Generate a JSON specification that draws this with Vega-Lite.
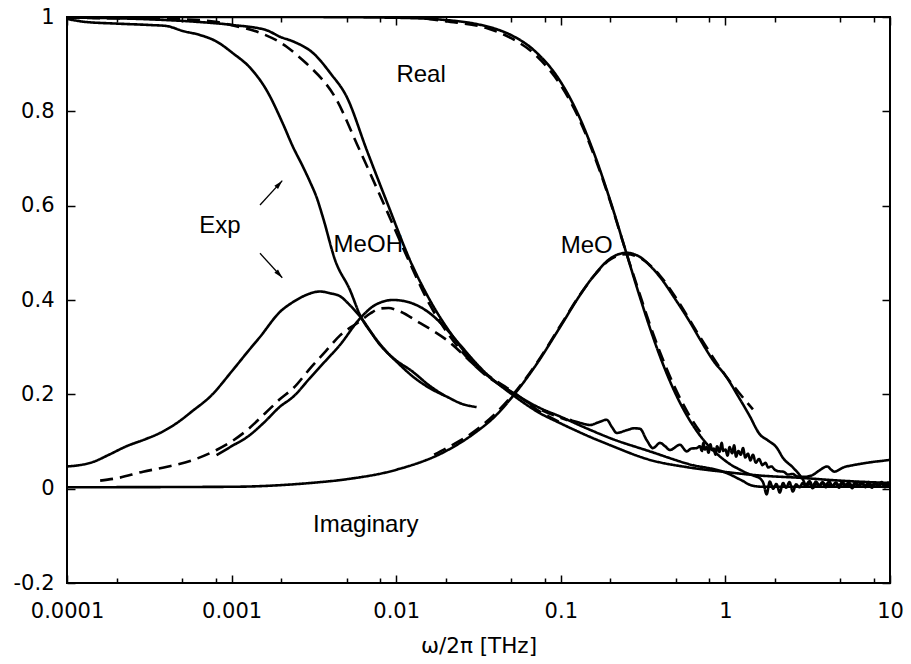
{
  "$schema": "https://vega.github.io/schema/vega-lite/v6.json",
  "width": 823,
  "height": 566,
  "autosize": {"type": "none"},
  "padding": {"left": 67, "top": 17, "right": 21, "bottom": 81},
  "background": "white",
  "config": {
    "view": {"stroke": "black", "strokeWidth": 2},
    "axis": {"grid": false, "domain": false, "labelFont": "DejaVu Sans", "labelFontSize": 21, "labelColor": "black", "tickColor": "black", "tickWidth": 1.5, "titleFont": "DejaVu Sans", "titleFontSize": 21.5, "titleFontWeight": "normal", "titleColor": "black", "labelOverlap": false, "labelFlush": false, "labelBound": false}
  },
  "datasets": {
    "curves": [
      {"s":"exp_re","d":"solid","x":0.0001,"y":0.996},{"s":"exp_re","d":"solid","x":0.000126,"y":0.99},{"s":"exp_re","d":"solid","x":0.0002,"y":0.986},{"s":"exp_re","d":"solid","x":0.00032,"y":0.983},{"s":"exp_re","d":"solid","x":0.0004,"y":0.981},{"s":"exp_re","d":"solid","x":0.00051,"y":0.97},{"s":"exp_re","d":"solid","x":0.00064,"y":0.962},{"s":"exp_re","d":"solid","x":0.00081,"y":0.948},{"s":"exp_re","d":"solid","x":0.00102,"y":0.923},{"s":"exp_re","d":"solid","x":0.00129,"y":0.893},{"s":"exp_re","d":"solid","x":0.00163,"y":0.845},{"s":"exp_re","d":"solid","x":0.00206,"y":0.772},{"s":"exp_re","d":"solid","x":0.00235,"y":0.726},{"s":"exp_re","d":"solid","x":0.0027,"y":0.684},{"s":"exp_re","d":"solid","x":0.003,"y":0.65},{"s":"exp_re","d":"solid","x":0.00329,"y":0.617},{"s":"exp_re","d":"solid","x":0.00361,"y":0.572},{"s":"exp_re","d":"solid","x":0.00425,"y":0.485},{"s":"exp_re","d":"solid","x":0.00524,"y":0.421},{"s":"exp_re","d":"solid","x":0.00603,"y":0.368},{"s":"exp_re","d":"solid","x":0.00726,"y":0.325},{"s":"exp_re","d":"solid","x":0.00917,"y":0.283},{"s":"exp_re","d":"solid","x":0.0127,"y":0.247},{"s":"exp_re","d":"solid","x":0.016,"y":0.218},{"s":"exp_re","d":"solid","x":0.0195,"y":0.198},
      {"s":"exp_im","d":"solid","x":0.0001,"y":0.047},{"s":"exp_im","d":"solid","x":0.000145,"y":0.057},{"s":"exp_im","d":"solid","x":0.00018,"y":0.072},{"s":"exp_im","d":"solid","x":0.00023,"y":0.09},{"s":"exp_im","d":"solid","x":0.0003,"y":0.105},{"s":"exp_im","d":"solid","x":0.000367,"y":0.118},{"s":"exp_im","d":"solid","x":0.000464,"y":0.139},{"s":"exp_im","d":"solid","x":0.00058,"y":0.165},{"s":"exp_im","d":"solid","x":0.00074,"y":0.195},{"s":"exp_im","d":"solid","x":0.00102,"y":0.252},{"s":"exp_im","d":"solid","x":0.00125,"y":0.29},{"s":"exp_im","d":"solid","x":0.00149,"y":0.322},{"s":"exp_im","d":"solid","x":0.00197,"y":0.375},{"s":"exp_im","d":"solid","x":0.00237,"y":0.396},{"s":"exp_im","d":"solid","x":0.00273,"y":0.408},{"s":"exp_im","d":"solid","x":0.00344,"y":0.418},{"s":"exp_im","d":"solid","x":0.004,"y":0.414},{"s":"exp_im","d":"solid","x":0.00456,"y":0.408},{"s":"exp_im","d":"solid","x":0.0052,"y":0.39},{"s":"exp_im","d":"solid","x":0.00603,"y":0.365},{"s":"exp_im","d":"solid","x":0.00797,"y":0.305},{"s":"exp_im","d":"solid","x":0.01,"y":0.27},{"s":"exp_im","d":"solid","x":0.0127,"y":0.237},{"s":"exp_im","d":"solid","x":0.016,"y":0.213},{"s":"exp_im","d":"solid","x":0.0203,"y":0.195},{"s":"exp_im","d":"solid","x":0.025,"y":0.18},{"s":"exp_im","d":"solid","x":0.0308,"y":0.173},
      {"s":"meoh_re","d":"solid","x":0.0001,"y":0.999},{"s":"meoh_re","d":"solid","x":0.00032,"y":0.995},{"s":"meoh_re","d":"solid","x":0.0006,"y":0.99},{"s":"meoh_re","d":"solid","x":0.00102,"y":0.983},{"s":"meoh_re","d":"solid","x":0.00163,"y":0.972},{"s":"meoh_re","d":"solid","x":0.00197,"y":0.958},{"s":"meoh_re","d":"solid","x":0.00237,"y":0.948},{"s":"meoh_re","d":"solid","x":0.00314,"y":0.923},{"s":"meoh_re","d":"solid","x":0.004,"y":0.88},{"s":"meoh_re","d":"solid","x":0.005,"y":0.831},{"s":"meoh_re","d":"solid","x":0.00662,"y":0.718},{"s":"meoh_re","d":"solid","x":0.009,"y":0.598},{"s":"meoh_re","d":"solid","x":0.0121,"y":0.485},{"s":"meoh_re","d":"solid","x":0.016,"y":0.4},{"s":"meoh_re","d":"solid","x":0.0222,"y":0.322},{"s":"meoh_re","d":"solid","x":0.032,"y":0.255},{"s":"meoh_re","d":"solid","x":0.0514,"y":0.203},{"s":"meoh_re","d":"solid","x":0.0747,"y":0.171},{"s":"meoh_re","d":"solid","x":0.0989,"y":0.153},{"s":"meoh_re","d":"solid","x":0.15,"y":0.125},{"s":"meoh_re","d":"solid","x":0.2,"y":0.107},{"s":"meoh_re","d":"solid","x":0.348,"y":0.079},{"s":"meoh_re","d":"solid","x":0.6,"y":0.052},{"s":"meoh_re","d":"solid","x":1.02,"y":0.033},{"s":"meoh_re","d":"solid","x":1.25,"y":0.018},{"s":"meoh_re","d":"solid","x":1.47,"y":0.006},{"s":"meoh_re","d":"solid","x":1.7,"y":0.004},{"s":"meoh_re","d":"solid","x":3,"y":0.004},{"s":"meoh_re","d":"solid","x":10,"y":0.004},
      {"s":"meoh_re_d","d":"dashed","x":0.0001,"y":0.998},{"s":"meoh_re_d","d":"dashed","x":0.0005,"y":0.995},{"s":"meoh_re_d","d":"dashed","x":0.0008,"y":0.99},{"s":"meoh_re_d","d":"dashed","x":0.00105,"y":0.981},{"s":"meoh_re_d","d":"dashed","x":0.0015,"y":0.966},{"s":"meoh_re_d","d":"dashed","x":0.00216,"y":0.937},{"s":"meoh_re_d","d":"dashed","x":0.0025,"y":0.919},{"s":"meoh_re_d","d":"dashed","x":0.00284,"y":0.902},{"s":"meoh_re_d","d":"dashed","x":0.00435,"y":0.824},{"s":"meoh_re_d","d":"dashed","x":0.00575,"y":0.732},{"s":"meoh_re_d","d":"dashed","x":0.0085,"y":0.6},{"s":"meoh_re_d","d":"dashed","x":0.0118,"y":0.487},{"s":"meoh_re_d","d":"dashed","x":0.016,"y":0.39},{"s":"meoh_re_d","d":"dashed","x":0.021,"y":0.325},{"s":"meoh_re_d","d":"dashed","x":0.032,"y":0.252},{"s":"meoh_re_d","d":"dashed","x":0.05,"y":0.205},{"s":"meoh_re_d","d":"dashed","x":0.075,"y":0.168},{"s":"meoh_re_d","d":"dashed","x":0.11,"y":0.145},
      {"s":"meoh_im","d":"solid","x":0.00081,"y":0.071},{"s":"meoh_im","d":"solid","x":0.001,"y":0.09},{"s":"meoh_im","d":"solid","x":0.00125,"y":0.11},{"s":"meoh_im","d":"solid","x":0.00156,"y":0.139},{"s":"meoh_im","d":"solid","x":0.00197,"y":0.174},{"s":"meoh_im","d":"solid","x":0.00237,"y":0.195},{"s":"meoh_im","d":"solid","x":0.003,"y":0.235},{"s":"meoh_im","d":"solid","x":0.0037,"y":0.27},{"s":"meoh_im","d":"solid","x":0.00456,"y":0.305},{"s":"meoh_im","d":"solid","x":0.00603,"y":0.361},{"s":"meoh_im","d":"solid","x":0.0075,"y":0.39},{"s":"meoh_im","d":"solid","x":0.0096,"y":0.4},{"s":"meoh_im","d":"solid","x":0.012,"y":0.395},{"s":"meoh_im","d":"solid","x":0.016,"y":0.372},{"s":"meoh_im","d":"solid","x":0.02,"y":0.34},{"s":"meoh_im","d":"solid","x":0.0244,"y":0.305},{"s":"meoh_im","d":"solid","x":0.035,"y":0.245},{"s":"meoh_im","d":"solid","x":0.0514,"y":0.198},{"s":"meoh_im","d":"solid","x":0.0747,"y":0.16},{"s":"meoh_im","d":"solid","x":0.0989,"y":0.139},{"s":"meoh_im","d":"solid","x":0.15,"y":0.11},{"s":"meoh_im","d":"solid","x":0.2,"y":0.092},{"s":"meoh_im","d":"solid","x":0.348,"y":0.061},{"s":"meoh_im","d":"solid","x":0.6,"y":0.045},{"s":"meoh_im","d":"solid","x":1.02,"y":0.035},{"s":"meoh_im","d":"solid","x":1.6,"y":0.028},{"s":"meoh_im","d":"solid","x":2.84,"y":0.023},{"s":"meoh_im","d":"solid","x":5,"y":0.017},{"s":"meoh_im","d":"solid","x":10,"y":0.012},
      {"s":"meoh_im_d","d":"dashed","x":0.000159,"y":0.017},{"s":"meoh_im_d","d":"dashed","x":0.0002,"y":0.022},{"s":"meoh_im_d","d":"dashed","x":0.00029,"y":0.036},{"s":"meoh_im_d","d":"dashed","x":0.0004,"y":0.046},{"s":"meoh_im_d","d":"dashed","x":0.000585,"y":0.061},{"s":"meoh_im_d","d":"dashed","x":0.00081,"y":0.082},{"s":"meoh_im_d","d":"dashed","x":0.001,"y":0.1},{"s":"meoh_im_d","d":"dashed","x":0.00124,"y":0.124},{"s":"meoh_im_d","d":"dashed","x":0.0016,"y":0.16},{"s":"meoh_im_d","d":"dashed","x":0.00197,"y":0.19},{"s":"meoh_im_d","d":"dashed","x":0.00237,"y":0.213},{"s":"meoh_im_d","d":"dashed","x":0.003,"y":0.255},{"s":"meoh_im_d","d":"dashed","x":0.0037,"y":0.29},{"s":"meoh_im_d","d":"dashed","x":0.00456,"y":0.325},{"s":"meoh_im_d","d":"dashed","x":0.00603,"y":0.355},{"s":"meoh_im_d","d":"dashed","x":0.007,"y":0.372},{"s":"meoh_im_d","d":"dashed","x":0.008,"y":0.382},{"s":"meoh_im_d","d":"dashed","x":0.009,"y":0.383},{"s":"meoh_im_d","d":"dashed","x":0.01,"y":0.379},{"s":"meoh_im_d","d":"dashed","x":0.014,"y":0.351},{"s":"meoh_im_d","d":"dashed","x":0.0203,"y":0.315},{"s":"meoh_im_d","d":"dashed","x":0.0323,"y":0.252},{"s":"meoh_im_d","d":"dashed","x":0.0514,"y":0.205},{"s":"meoh_im_d","d":"dashed","x":0.075,"y":0.163},{"s":"meoh_im_d","d":"dashed","x":0.1,"y":0.14},
      {"s":"meoh_w","d":"solid","x":0.1137,"y":0.146},{"s":"meoh_w","d":"solid","x":0.13,"y":0.14},{"s":"meoh_w","d":"solid","x":0.1504,"y":0.135},{"s":"meoh_w","d":"solid","x":0.17,"y":0.141},{"s":"meoh_w","d":"solid","x":0.19,"y":0.146},{"s":"meoh_w","d":"solid","x":0.205,"y":0.13},{"s":"meoh_w","d":"solid","x":0.2186,"y":0.118},{"s":"meoh_w","d":"solid","x":0.2514,"y":0.124},{"s":"meoh_w","d":"solid","x":0.28,"y":0.128},{"s":"meoh_w","d":"solid","x":0.3027,"y":0.127},{"s":"meoh_w","d":"solid","x":0.3325,"y":0.103},{"s":"meoh_w","d":"solid","x":0.363,"y":0.086},{"s":"meoh_w","d":"solid","x":0.401,"y":0.097},{"s":"meoh_w","d":"solid","x":0.43,"y":0.09},{"s":"meoh_w","d":"solid","x":0.4606,"y":0.082},{"s":"meoh_w","d":"solid","x":0.5297,"y":0.093},{"s":"meoh_w","d":"solid","x":0.582,"y":0.079},{"s":"meoh_w","d":"solid","x":0.62,"y":0.085},{"s":"meoh_w","d":"solid","x":0.669,"y":0.086},{"s":"meoh_w","d":"solid","x":0.7,"y":0.09},{"s":"meoh_w","d":"solid","x":0.72,"y":0.08},{"s":"meoh_w","d":"solid","x":0.735,"y":0.097},{"s":"meoh_w","d":"solid","x":0.75,"y":0.083},{"s":"meoh_w","d":"solid","x":0.77,"y":0.088},{"s":"meoh_w","d":"solid","x":0.79,"y":0.076},{"s":"meoh_w","d":"solid","x":0.81,"y":0.094},{"s":"meoh_w","d":"solid","x":0.83,"y":0.082},{"s":"meoh_w","d":"solid","x":0.85,"y":0.085},{"s":"meoh_w","d":"solid","x":0.87,"y":0.072},{"s":"meoh_w","d":"solid","x":0.89,"y":0.09},{"s":"meoh_w","d":"solid","x":0.92,"y":0.078},{"s":"meoh_w","d":"solid","x":0.95,"y":0.097},{"s":"meoh_w","d":"solid","x":0.97,"y":0.08},{"s":"meoh_w","d":"solid","x":1.0,"y":0.083},{"s":"meoh_w","d":"solid","x":1.03,"y":0.07},{"s":"meoh_w","d":"solid","x":1.06,"y":0.088},{"s":"meoh_w","d":"solid","x":1.1,"y":0.075},{"s":"meoh_w","d":"solid","x":1.13,"y":0.092},{"s":"meoh_w","d":"solid","x":1.16,"y":0.068},{"s":"meoh_w","d":"solid","x":1.2,"y":0.08},{"s":"meoh_w","d":"solid","x":1.24,"y":0.072},{"s":"meoh_w","d":"solid","x":1.28,"y":0.086},{"s":"meoh_w","d":"solid","x":1.32,"y":0.066},{"s":"meoh_w","d":"solid","x":1.37,"y":0.074},{"s":"meoh_w","d":"solid","x":1.42,"y":0.06},{"s":"meoh_w","d":"solid","x":1.47,"y":0.072},{"s":"meoh_w","d":"solid","x":1.53,"y":0.055},{"s":"meoh_w","d":"solid","x":1.6,"y":0.063},{"s":"meoh_w","d":"solid","x":1.68,"y":0.05},{"s":"meoh_w","d":"solid","x":1.75,"y":0.055},{"s":"meoh_w","d":"solid","x":1.82,"y":0.045},{"s":"meoh_w","d":"solid","x":1.9,"y":0.047},{"s":"meoh_w","d":"solid","x":2.0,"y":0.04},{"s":"meoh_w","d":"solid","x":2.1,"y":0.037},{"s":"meoh_w","d":"solid","x":2.25,"y":0.036},{"s":"meoh_w","d":"solid","x":2.4,"y":0.03},{"s":"meoh_w","d":"solid","x":2.57,"y":0.031},{"s":"meoh_w","d":"solid","x":2.72,"y":0.026},{"s":"meoh_w","d":"solid","x":3.0,"y":0.025},{"s":"meoh_w","d":"solid","x":3.39,"y":0.029},{"s":"meoh_w","d":"solid","x":3.7,"y":0.038},{"s":"meoh_w","d":"solid","x":4.15,"y":0.047},{"s":"meoh_w","d":"solid","x":4.4,"y":0.04},{"s":"meoh_w","d":"solid","x":4.58,"y":0.036},{"s":"meoh_w","d":"solid","x":5.2,"y":0.045},{"s":"meoh_w","d":"solid","x":6.0,"y":0.05},{"s":"meoh_w","d":"solid","x":7.0,"y":0.054},{"s":"meoh_w","d":"solid","x":8.0,"y":0.057},{"s":"meoh_w","d":"solid","x":9.0,"y":0.059},{"s":"meoh_w","d":"solid","x":10,"y":0.061},
      {"s":"meo_re","d":"solid","x":0.0001,"y":1.0},{"s":"meo_re","d":"solid","x":0.001,"y":1.0},{"s":"meo_re","d":"solid","x":0.003,"y":0.9999},{"s":"meo_re","d":"solid","x":0.01,"y":0.9984},{"s":"meo_re","d":"solid","x":0.02,"y":0.9936},{"s":"meo_re","d":"solid","x":0.03,"y":0.9858},{"s":"meo_re","d":"solid","x":0.04,"y":0.975},{"s":"meo_re","d":"solid","x":0.05,"y":0.9615},{"s":"meo_re","d":"solid","x":0.07,"y":0.927},{"s":"meo_re","d":"solid","x":0.1,"y":0.862},{"s":"meo_re","d":"solid","x":0.13,"y":0.787},{"s":"meo_re","d":"solid","x":0.16,"y":0.709},{"s":"meo_re","d":"solid","x":0.2,"y":0.61},{"s":"meo_re","d":"solid","x":0.25,"y":0.5},{"s":"meo_re","d":"solid","x":0.3,"y":0.41},{"s":"meo_re","d":"solid","x":0.35,"y":0.338},{"s":"meo_re","d":"solid","x":0.4,"y":0.281},{"s":"meo_re","d":"solid","x":0.5,"y":0.2},{"s":"meo_re","d":"solid","x":0.6,"y":0.148},{"s":"meo_re","d":"solid","x":0.7,"y":0.113},{"s":"meo_re","d":"solid","x":0.8,"y":0.089},{"s":"meo_re","d":"solid","x":0.9,"y":0.072},{"s":"meo_re","d":"solid","x":1.0,"y":0.059},{"s":"meo_re","d":"solid","x":1.1,"y":0.049},{"s":"meo_re","d":"solid","x":1.2,"y":0.042},{"s":"meo_re","d":"solid","x":1.35,"y":0.033},{"s":"meo_re","d":"solid","x":1.5,"y":0.027},{"s":"meo_re","d":"solid","x":1.62,"y":0.022},{"s":"meo_re","d":"solid","x":1.7,"y":0.012},{"s":"meo_re","d":"solid","x":1.78,"y":-0.012},{"s":"meo_re","d":"solid","x":1.86,"y":0.015},{"s":"meo_re","d":"solid","x":1.95,"y":0.0},{"s":"meo_re","d":"solid","x":2.04,"y":0.01},{"s":"meo_re","d":"solid","x":2.14,"y":-0.008},{"s":"meo_re","d":"solid","x":2.24,"y":0.012},{"s":"meo_re","d":"solid","x":2.34,"y":0.002},{"s":"meo_re","d":"solid","x":2.45,"y":0.014},{"s":"meo_re","d":"solid","x":2.57,"y":-0.006},{"s":"meo_re","d":"solid","x":2.69,"y":0.009},{"s":"meo_re","d":"solid","x":2.82,"y":0.003},{"s":"meo_re","d":"solid","x":2.95,"y":0.012},{"s":"meo_re","d":"solid","x":3.09,"y":0.004},{"s":"meo_re","d":"solid","x":3.24,"y":0.011},{"s":"meo_re","d":"solid","x":3.39,"y":0.001},{"s":"meo_re","d":"solid","x":3.55,"y":0.01},{"s":"meo_re","d":"solid","x":3.72,"y":0.005},{"s":"meo_re","d":"solid","x":3.89,"y":0.012},{"s":"meo_re","d":"solid","x":4.07,"y":0.003},{"s":"meo_re","d":"solid","x":4.27,"y":0.009},{"s":"meo_re","d":"solid","x":4.47,"y":0.004},{"s":"meo_re","d":"solid","x":4.68,"y":0.011},{"s":"meo_re","d":"solid","x":4.9,"y":0.002},{"s":"meo_re","d":"solid","x":5.13,"y":0.01},{"s":"meo_re","d":"solid","x":5.37,"y":0.005},{"s":"meo_re","d":"solid","x":5.62,"y":0.009},{"s":"meo_re","d":"solid","x":5.89,"y":0.001},{"s":"meo_re","d":"solid","x":6.17,"y":0.01},{"s":"meo_re","d":"solid","x":6.46,"y":0.004},{"s":"meo_re","d":"solid","x":6.76,"y":0.011},{"s":"meo_re","d":"solid","x":7.08,"y":0.003},{"s":"meo_re","d":"solid","x":7.41,"y":0.009},{"s":"meo_re","d":"solid","x":7.76,"y":0.002},{"s":"meo_re","d":"solid","x":8.13,"y":0.01},{"s":"meo_re","d":"solid","x":8.51,"y":0.004},{"s":"meo_re","d":"solid","x":8.91,"y":0.011},{"s":"meo_re","d":"solid","x":9.33,"y":0.003},{"s":"meo_re","d":"solid","x":9.77,"y":0.009},{"s":"meo_re","d":"solid","x":10,"y":0.005},
      {"s":"meo_re_d","d":"dashed","x":0.015,"y":0.997},{"s":"meo_re_d","d":"dashed","x":0.02,"y":0.991},{"s":"meo_re_d","d":"dashed","x":0.035,"y":0.977},{"s":"meo_re_d","d":"dashed","x":0.05,"y":0.955},{"s":"meo_re_d","d":"dashed","x":0.07,"y":0.92},{"s":"meo_re_d","d":"dashed","x":0.1,"y":0.855},{"s":"meo_re_d","d":"dashed","x":0.13,"y":0.782},{"s":"meo_re_d","d":"dashed","x":0.16,"y":0.705},{"s":"meo_re_d","d":"dashed","x":0.2,"y":0.608},{"s":"meo_re_d","d":"dashed","x":0.25,"y":0.5},{"s":"meo_re_d","d":"dashed","x":0.3,"y":0.415},{"s":"meo_re_d","d":"dashed","x":0.35,"y":0.345},{"s":"meo_re_d","d":"dashed","x":0.4,"y":0.29},{"s":"meo_re_d","d":"dashed","x":0.5,"y":0.21},{"s":"meo_re_d","d":"dashed","x":0.6,"y":0.157},{"s":"meo_re_d","d":"dashed","x":0.73,"y":0.112},
      {"s":"meo_im","d":"solid","x":0.0001,"y":0.003},{"s":"meo_im","d":"solid","x":0.001,"y":0.004},{"s":"meo_im","d":"solid","x":0.003,"y":0.012},{"s":"meo_im","d":"solid","x":0.005,"y":0.02},{"s":"meo_im","d":"solid","x":0.01,"y":0.04},{"s":"meo_im","d":"solid","x":0.02,"y":0.0795},{"s":"meo_im","d":"solid","x":0.03,"y":0.118},{"s":"meo_im","d":"solid","x":0.04,"y":0.154},{"s":"meo_im","d":"solid","x":0.05,"y":0.192},{"s":"meo_im","d":"solid","x":0.07,"y":0.26},{"s":"meo_im","d":"solid","x":0.1,"y":0.345},{"s":"meo_im","d":"solid","x":0.13,"y":0.409},{"s":"meo_im","d":"solid","x":0.16,"y":0.453},{"s":"meo_im","d":"solid","x":0.2,"y":0.488},{"s":"meo_im","d":"solid","x":0.25,"y":0.5},{"s":"meo_im","d":"solid","x":0.3,"y":0.492},{"s":"meo_im","d":"solid","x":0.35,"y":0.472},{"s":"meo_im","d":"solid","x":0.4,"y":0.449},{"s":"meo_im","d":"solid","x":0.5,"y":0.4},{"s":"meo_im","d":"solid","x":0.6,"y":0.357},{"s":"meo_im","d":"solid","x":0.7,"y":0.317},{"s":"meo_im","d":"solid","x":0.85,"y":0.27},{"s":"meo_im","d":"solid","x":1.0,"y":0.24},{"s":"meo_im","d":"solid","x":1.2,"y":0.195},{"s":"meo_im","d":"solid","x":1.4,"y":0.155},{"s":"meo_im","d":"solid","x":1.62,"y":0.115},{"s":"meo_im","d":"solid","x":1.8,"y":0.103},{"s":"meo_im","d":"solid","x":2.05,"y":0.087},{"s":"meo_im","d":"solid","x":2.24,"y":0.065},{"s":"meo_im","d":"solid","x":2.57,"y":0.045},{"s":"meo_im","d":"solid","x":2.84,"y":0.028},{"s":"meo_im","d":"solid","x":2.95,"y":0.02},{"s":"meo_im","d":"solid","x":3.09,"y":0.008},{"s":"meo_im","d":"solid","x":3.24,"y":0.016},{"s":"meo_im","d":"solid","x":3.39,"y":0.006},{"s":"meo_im","d":"solid","x":3.55,"y":0.015},{"s":"meo_im","d":"solid","x":3.72,"y":0.007},{"s":"meo_im","d":"solid","x":3.89,"y":0.014},{"s":"meo_im","d":"solid","x":4.07,"y":0.008},{"s":"meo_im","d":"solid","x":4.27,"y":0.015},{"s":"meo_im","d":"solid","x":4.47,"y":0.006},{"s":"meo_im","d":"solid","x":4.68,"y":0.013},{"s":"meo_im","d":"solid","x":4.9,"y":0.007},{"s":"meo_im","d":"solid","x":5.13,"y":0.014},{"s":"meo_im","d":"solid","x":5.37,"y":0.008},{"s":"meo_im","d":"solid","x":5.62,"y":0.013},{"s":"meo_im","d":"solid","x":5.89,"y":0.006},{"s":"meo_im","d":"solid","x":6.17,"y":0.014},{"s":"meo_im","d":"solid","x":6.46,"y":0.008},{"s":"meo_im","d":"solid","x":6.76,"y":0.013},{"s":"meo_im","d":"solid","x":7.08,"y":0.006},{"s":"meo_im","d":"solid","x":7.41,"y":0.014},{"s":"meo_im","d":"solid","x":7.76,"y":0.007},{"s":"meo_im","d":"solid","x":8.13,"y":0.013},{"s":"meo_im","d":"solid","x":8.51,"y":0.008},{"s":"meo_im","d":"solid","x":8.91,"y":0.014},{"s":"meo_im","d":"solid","x":9.33,"y":0.006},{"s":"meo_im","d":"solid","x":9.77,"y":0.013},{"s":"meo_im","d":"solid","x":10,"y":0.009},
      {"s":"meo_im_d","d":"dashed","x":0.017,"y":0.072},{"s":"meo_im_d","d":"dashed","x":0.02,"y":0.085},{"s":"meo_im_d","d":"dashed","x":0.03,"y":0.122},{"s":"meo_im_d","d":"dashed","x":0.05,"y":0.195},{"s":"meo_im_d","d":"dashed","x":0.07,"y":0.262},{"s":"meo_im_d","d":"dashed","x":0.1,"y":0.347},{"s":"meo_im_d","d":"dashed","x":0.13,"y":0.41},{"s":"meo_im_d","d":"dashed","x":0.16,"y":0.452},{"s":"meo_im_d","d":"dashed","x":0.2,"y":0.486},{"s":"meo_im_d","d":"dashed","x":0.25,"y":0.497},{"s":"meo_im_d","d":"dashed","x":0.3,"y":0.49},{"s":"meo_im_d","d":"dashed","x":0.4,"y":0.452},{"s":"meo_im_d","d":"dashed","x":0.5,"y":0.405},{"s":"meo_im_d","d":"dashed","x":0.7,"y":0.322},{"s":"meo_im_d","d":"dashed","x":1.0,"y":0.24},{"s":"meo_im_d","d":"dashed","x":1.2,"y":0.205},{"s":"meo_im_d","d":"dashed","x":1.47,"y":0.168}
    ],
    "labels": [
      {"x": 0.01416, "y": 0.863, "t": "Real"},
      {"x": 0.000848, "y": 0.541, "t": "Exp"},
      {"x": 0.006768, "y": 0.5025, "t": "MeOH"},
      {"x": 0.1436, "y": 0.5003, "t": "MeO"},
      {"x": 0.00653, "y": -0.091, "t": "Imaginary"}
    ],
    "arrows": [
      {"x": 0.001488, "y": 0.6014, "x2": 0.002032, "y2": 0.653, "a": 42.5},
      {"x": 0.001488, "y": 0.499, "x2": 0.002032, "y2": 0.4473, "a": 137.5}
    ]
  },
  "resolve": {"axis": {"x": "independent", "y": "independent"}},
  "layer": [
    {
      "data": {"name": "curves"},
      "mark": {"type": "line", "interpolate": "monotone", "strokeWidth": 2.6, "color": "black", "clip": true},
      "encoding": {
        "x": {"field": "x", "type": "quantitative", "scale": {"type": "log", "domain": [0.0001, 10], "nice": false},
              "axis": {"orient": "bottom", "values": [0.0001, 0.001, 0.01, 0.1, 1, 10], "tickSize": -8, "labelPadding": 25,
                       "labelExpr": "format(datum.value, '~g')", "title": "ω/2π [THz]", "titleY": 69, "titleBaseline": "alphabetic"}},
        "y": {"field": "y", "type": "quantitative", "scale": {"domain": [-0.2, 1], "nice": false, "zero": false},
              "axis": {"orient": "left", "values": [-0.2, 0, 0.2, 0.4, 0.6, 0.8, 1], "tickSize": -8, "labelPadding": 21,
                       "labelExpr": "datum.value == 0 ? '0' : datum.value == 1 ? '1' : (datum.value < 0 ? '-' : '') + format(abs(datum.value), '.1f')", "title": null}},
        "detail": {"field": "s", "type": "nominal"},
        "strokeDash": {"field": "d", "type": "nominal", "scale": {"domain": ["solid", "dashed"], "range": [[1, 0], [13, 7]]}, "legend": null}
      }
    },
    {
      "data": {"name": "labels"},
      "mark": {"type": "text", "font": "Liberation Sans", "fontSize": 24, "color": "black", "align": "center", "baseline": "alphabetic"},
      "encoding": {
        "x": {"field": "x", "type": "quantitative", "scale": {"type": "log", "domain": [0.0001, 10], "nice": false},
              "axis": {"orient": "top", "values": [0.0001, 0.001, 0.01, 0.1, 1, 10], "tickSize": -8, "labels": false, "title": null}},
        "y": {"field": "y", "type": "quantitative", "scale": {"domain": [-0.2, 1], "nice": false, "zero": false},
              "axis": {"orient": "right", "values": [-0.2, 0, 0.2, 0.4, 0.6, 0.8, 1], "tickSize": -8, "labels": false, "title": null}},
        "text": {"field": "t", "type": "nominal"}
      }
    },
    {
      "data": {"name": "arrows"},
      "mark": {"type": "rule", "strokeWidth": 1.3, "color": "black"},
      "encoding": {
        "x": {"field": "x", "type": "quantitative", "scale": {"type": "log", "domain": [0.0001, 10], "nice": false},
              "axis": {"orient": "bottom", "values": [0.0002, 0.0005, 0.0008, 0.002, 0.005, 0.008, 0.02, 0.05, 0.08, 0.2, 0.5, 0.8, 2, 5, 8], "tickSize": -5, "labels": false, "title": null}},
        "y": {"field": "y", "type": "quantitative", "scale": {"domain": [-0.2, 1], "nice": false, "zero": false}, "axis": null},
        "x2": {"field": "x2"},
        "y2": {"field": "y2"}
      }
    },
    {
      "data": {"name": "arrows"},
      "mark": {"type": "point", "shape": "M0,0L-0.55,2L0.55,2Z", "filled": true, "size": 81, "color": "black", "opacity": 1},
      "encoding": {
        "x": {"field": "x2", "type": "quantitative", "scale": {"type": "log", "domain": [0.0001, 10], "nice": false},
              "axis": {"orient": "top", "values": [0.0002, 0.0005, 0.0008, 0.002, 0.005, 0.008, 0.02, 0.05, 0.08, 0.2, 0.5, 0.8, 2, 5, 8], "tickSize": -5, "labels": false, "title": null}},
        "y": {"field": "y2", "type": "quantitative", "scale": {"domain": [-0.2, 1], "nice": false, "zero": false}, "axis": null},
        "angle": {"field": "a", "type": "quantitative", "scale": null}
      }
    }
  ]
}
